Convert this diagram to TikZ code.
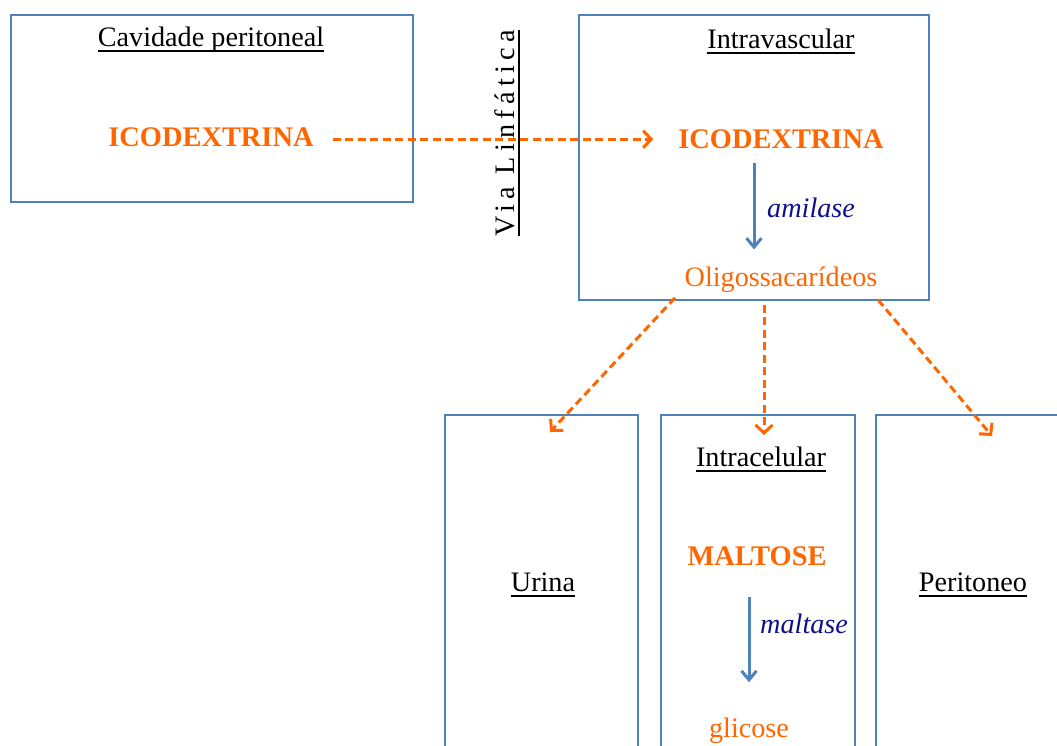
\documentclass[tikz,border=0pt]{standalone}
\usepackage{fontspec}
\setmainfont{Liberation Serif}
\usetikzlibrary{arrows.meta}
\definecolor{orng}{RGB}{255,102,0}
\definecolor{bxblue}{RGB}{79,129,189}
\definecolor{enz}{RGB}{16,16,138}
\newcommand{\myul}[1]{\setbox0\hbox{#1}\rlap{\rule[-5.8pt]{\wd0}{2pt}}\box0}
\begin{document}
\begin{tikzpicture}[x=1pt,y=-1pt,
  txt/.style={font=\fontsize{28.2}{34}\selectfont, inner sep=0pt, anchor=base},
  title/.style={txt, text=black},
  ico/.style={txt, text=orng, font=\fontsize{28.4}{34}\selectfont\bfseries},
  prod/.style={txt, text=orng},
  enzyme/.style={txt, text=enz, font=\fontsize{28.2}{34}\selectfont\itshape, anchor=base west},
  box/.style={draw=bxblue, line width=2pt, inner sep=0pt},
  flow/.style={orng, line width=3pt, dash pattern=on 8pt off 4.5pt,
    -{Straight Barb[length=8pt,width=17pt,line width=3pt]}},
  react/.style={bxblue, line width=3pt,
    -{Straight Barb[length=9pt,width=15pt,line width=3pt]}}]
\path[use as bounding box] (0,0) rectangle (1057,745);
\clip (0,0) rectangle (1057,745);
% boxes
\node[box, minimum width=402pt, minimum height=187pt] (bcav) at (212,108.5) {};
\node[box, minimum width=350pt, minimum height=285pt] (bint) at (754,157.5) {};
\node[box, minimum width=193pt, minimum height=375pt] (buri) at (541.5,602.5) {};
\node[box, minimum width=194pt, minimum height=375pt] (bcel) at (758,602.5) {};
\node[box, minimum width=214pt, minimum height=375pt] (bper) at (983,602.5) {};
% texts
\node[title] (tcav) at (211,46.5) {\myul{Cavidade peritoneal}};
\node[ico] (ico1) at (211,146.5) {ICODEXTRINA};
\node[title] (tint) at (781,48) {\myul{Intravascular}};
\node[ico] (ico2) at (781,148.5) {ICODEXTRINA};
\node[enzyme] (ami) at (767,217) {amilase};
\node[prod] (oligo) at (781,286.5) {Oligossacarídeos};
\node[title, rotate=90] (via) at (514,133) {\myul{\addfontfeature{LetterSpace=19}Via Linfática}};
\node[title] (turi) at (543,591) {\myul{Urina}};
\node[title] (tcel) at (761,466) {\myul{Intracelular}};
\node[ico] (malt) at (757,565.7) {MALTOSE};
\node[enzyme] (maltase) at (760,633) {maltase};
\node[prod] (gli) at (749,737) {glicose};
\node[title] (tper) at (973,591) {\myul{Peritoneo}};
% connectors
\draw[flow] ([xshift=19pt,yshift=-2pt]ico1.east) -- ([xshift=-25pt]ico2.west);
\draw[react] ([xshift=-27pt,yshift=-14.5pt]ico2.south) -- ([xshift=-27pt,yshift=-100.5pt]ico2.south);
\draw[react] ([xshift=-8pt,yshift=-31pt]malt.south) -- ([xshift=-8pt,yshift=-116pt]malt.south);
\draw[flow] ([xshift=-106pt,yshift=-5pt]oligo.south) -- ([xshift=8.5pt,yshift=-18pt]buri.north);
\draw[flow] ([xshift=-17pt,yshift=-12pt]oligo.south) -- ([xshift=6pt,yshift=-21pt]bcel.north);
\draw[flow] ([xshift=97pt,yshift=-7pt]oligo.south) -- ([xshift=9pt,yshift=-22pt]bper.north);
\end{tikzpicture}
\end{document}
